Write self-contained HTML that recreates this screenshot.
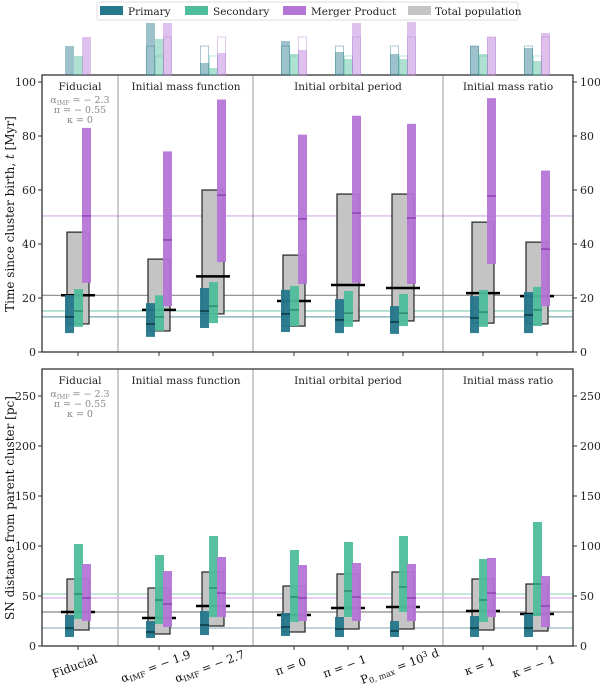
<!DOCTYPE html>
<html><head><meta charset="utf-8"><style>
html,body{margin:0;padding:0;background:#fff;}
svg{display:block;font-family:"DejaVu Serif","Liberation Serif",serif;}
</style></head><body>
<svg id="chart" width="600" height="688" viewBox="0 0 600 688"></svg>
<script>
const categories = ["Fiducial","IMF -1.9","IMF -2.7","pi 0","pi -1","P0max","kappa 1","kappa -1"];
// top panel: time [Myr]  [low, median, high]
const timePrimary   = [[7.0,13.0,21.1],[5.6,10.4,18.1],[8.9,15.2,23.7],[7.4,14.1,23.0],[7.0,11.9,19.6],[6.7,11.1,17.0],[7.0,12.6,20.7],[7.0,13.7,22.2]];
const timeSecondary = [[9.3,15.2,23.3],[7.8,13.0,21.0],[10.7,17.0,25.9],[9.6,15.6,24.4],[9.3,14.4,22.6],[9.6,14.4,21.5],[9.3,14.8,23.0],[9.6,15.6,24.1]];
const timeMerger    = [[25.6,50.4,83.0],[17.0,41.5,74.3],[33.3,58.1,93.5],[25.2,49.3,80.5],[25.6,51.5,87.5],[25.2,49.6,84.5],[32.6,57.8,94.0],[17.0,38.1,67.2]];
const timeTotal     = [[10.4,21.0,44.4],[7.8,15.6,34.4],[14.1,28.0,60.0],[9.6,18.9,35.9],[11.5,24.8,58.5],[11.5,23.7,58.5],[10.7,21.8,48.1],[10.4,20.7,40.7]];
// bottom panel: distance [pc]
const distPrimary   = [[9,18,31],[8,14,25],[11,21,35],[10,19,33],[9,17,29],[9,15,25],[9,18,30],[9,18,32]];
const distSecondary = [[27,52,102],[22,46,91],[29,58,110],[24,49,96],[29,55,104],[34,59,110],[24,46,87],[30,62,124]];
const distMerger    = [[25,48,82],[19,42,75],[29,53,89],[25,48,81],[25,49,83],[25,48,82],[29,53,88],[19,40,70]];
const distTotal     = [[16,34,67],[12,28,58],[20,40,74],[14,31,60],[17,38,72],[17,39,74],[16,35,67],[15,32,62]];
// inset fractions (arbitrary units)
const fracPrimary   = [29,52,12,34,23,21,29,27];
const fracSecondary = [19,36,7,21,16,16,21,14];
const fracMerger    = [38,52,22,25,52,53,38,42];
const xTickLabels = ["Fiducial","α<tspan font-size='8' dy='2'>IMF</tspan><tspan dy='-2'> = − 1.9</tspan>","α<tspan font-size='8' dy='2'>IMF</tspan><tspan dy='-2'> = − 2.7</tspan>","π = 0","π = − 1","P<tspan font-size='8' dy='2'>0, max</tspan><tspan dy='-2'> = 10</tspan><tspan font-size='8' dy='-4'>3</tspan><tspan dy='4'> d</tspan>","κ = 1","κ = − 1"];
const topTicks = [0,20,40,60,80,100];
const botTicks = [0,50,100,150,200,250];

const C = {p:"#25778c", s:"#4dbd9b", m:"#b575d6", g:"#c4c4c4"};
const svg = document.getElementById('chart');
const NS = "http://www.w3.org/2000/svg";
function mk(tag, attrs, parent){const e=document.createElementNS(NS,tag);for(const k in attrs)e.setAttribute(k,attrs[k]);(parent||svg).appendChild(e);return e;}
const L=42,R=573;
const centers=[78,159,213,294,348,403,483,537];
function xc(i){return centers[i];}
const topY=v=>352-v*2.7, botY=v=>646-v;
const seps=[118,253,443];

function panel(y0,y1,yf,ticks,P,S,M,T,refs,name){
  const g=mk('g',{});
  
  
  seps.forEach(x=>{const l=mk('line',{x1:x,x2:x,y1:y0,y2:y1,stroke:'#999','stroke-width':1},g);});
  refs.forEach(r=>{const l=mk('line',{x1:L,x2:R,y1:yf(r[0]),y2:yf(r[0]),stroke:r[1],'stroke-width':1.2,opacity:r[2]},g);});
  categories.forEach((c,i)=>{
    const x=xc(i);
    const b=mk('rect',{x:x-11,y:yf(T[i][2]),width:22,height:yf(T[i][0])-yf(T[i][2]),fill:C.g,stroke:'#222','stroke-width':1.2},g);
    
    const ml=mk('line',{x1:x-17,x2:x+17,y1:yf(T[i][1]),y2:yf(T[i][1]),stroke:'#000','stroke-width':2.5},g);
    
    [[P,C.p,-13,'primary'],[S,C.s,-4,'secondary'],[M,C.m,4,'merger']].forEach(([d,col,off,nm])=>{
      const r=mk('rect',{x:x+off,y:yf(d[i][2]),width:9,height:yf(d[i][0])-yf(d[i][2]),fill:col,opacity:0.95},g);
      
      const md=mk('line',{x1:x+off,x2:x+off+9,y1:yf(d[i][1]),y2:yf(d[i][1]),stroke:nm==='primary'?'#0b3a44':(nm==='secondary'?'#2e8a70':'#8e42b3'),'stroke-width':1.5},g);
      
    });
    mk('line',{x1:x,x2:x,y1:y1,y2:y1+4,stroke:'#333'},g);
  });
  const fr=mk('rect',{x:L,y:y0,width:R-L,height:y1-y0,fill:'none',stroke:'#333','stroke-width':1.3},g);
  
  ticks.forEach(t=>{
    const y=yf(t);
    mk('line',{x1:L-4,x2:L,y1:y,y2:y,stroke:'#333'},g);
    mk('line',{x1:R,x2:R+4,y1:y,y2:y,stroke:'#333'},g);
    const a=mk('text',{x:L-6,y:y+4,'text-anchor':'end','font-size':11,fill:'#222'},g);a.textContent=t;
    
    const b=mk('text',{x:R+7,y:y+4,'font-size':11,fill:'#222'},g);b.textContent=t;
    
  });
  const titles=[["Fiducial",80],["Initial mass function",186],["Initial orbital period",348],["Initial mass ratio",508]];
  titles.forEach(t=>{const e=mk('text',{x:t[1],y:y0+15,'text-anchor':'middle','font-size':10.5,fill:'#222'},g);e.textContent=t[0];});
  const a1=mk('text',{x:80,y:y0+28,'text-anchor':'middle','font-size':9.5,fill:'#888'},g);
  a1.innerHTML="α<tspan font-size='6' dy='2'>IMF</tspan><tspan dy='-2'> = − 2.3</tspan>";
  
  const a2=mk('text',{x:80,y:y0+38,'text-anchor':'middle','font-size':9.5,fill:'#888'},g);a2.textContent="π = − 0.55";
  
  const a3=mk('text',{x:80,y:y0+48,'text-anchor':'middle','font-size':9.5,fill:'#888'},g);a3.textContent="κ = 0";
  
}
panel(75,352,topY,topTicks,timePrimary,timeSecondary,timeMerger,timeTotal,
  [[timeMerger[0][1],C.m,0.6],[timeTotal[0][1],'#888',1],[timeSecondary[0][1],'#7fc9b6',1],[timePrimary[0][1],'#7aa6b0',1]],'time-panel');
panel(369,646,botY,botTicks,distPrimary,distSecondary,distMerger,distTotal,
  [[distSecondary[0][1],'#9fd9c7',1],[distMerger[0][1],'#dcb5ec',1],[distTotal[0][1],'#888',1],[distPrimary[0][1],'#9ab9c0',1]],'distance-panel');

// inset bars
const ig=mk('g',{});


categories.forEach((c,i)=>{
  const x=xc(i);
  [[fracPrimary,C.p,-13,'primary'],[fracSecondary,C.s,-4,'secondary'],[fracMerger,C.m,4,'merger']].forEach(([d,col,off,nm])=>{
    const h=d[i], h0=d[0];
    const r=mk('rect',{x:x+off,y:75-h,width:9,height:h,fill:col,opacity:0.45},ig);
    
    if(i>0){const o=mk('rect',{x:x+off+0.5,y:75-h0,width:8,height:h0,fill:'none',stroke:col,'stroke-opacity':0.4},ig);
      }
  });
});

// x tick labels
xTickLabels.forEach((t,i)=>{
  const x=xc(i)-2, y=670;
  const e=mk('text',{x:x,y:y,'text-anchor':'middle','font-size':11.5,fill:'#111',transform:`rotate(-20 ${x} ${y})`});
  e.innerHTML=t;
  
  
});
// y titles
const yt1=mk('text',{x:14,y:214,'text-anchor':'middle','font-size':12,fill:'#111',transform:'rotate(-90 14 214)'});
yt1.innerHTML="Time since cluster birth, <tspan font-style='italic'>t</tspan> [Myr]";


const yt2=mk('text',{x:14,y:508,'text-anchor':'middle','font-size':12,fill:'#111',transform:'rotate(-90 14 508)'});
yt2.textContent="SN distance from parent cluster [pc]";



// legend
const lg=mk('g',{});


mk('rect',{x:97,y:2,width:421,height:18,rx:2,fill:'#fff',stroke:'#ddd'},lg);
[["Primary",C.p,100,128],["Secondary",C.s,185,213],["Merger Product",C.m,283,311],["Total population",C.g,408,435]].forEach(e=>{
  const r=mk('rect',{x:e[2],y:6,width:23,height:9,fill:e[1]},lg);
  
  const t=mk('text',{x:e[3],y:15,'font-size':10.5,fill:'#222'},lg);t.textContent=e[0];
  
});
</script>
</body></html>
